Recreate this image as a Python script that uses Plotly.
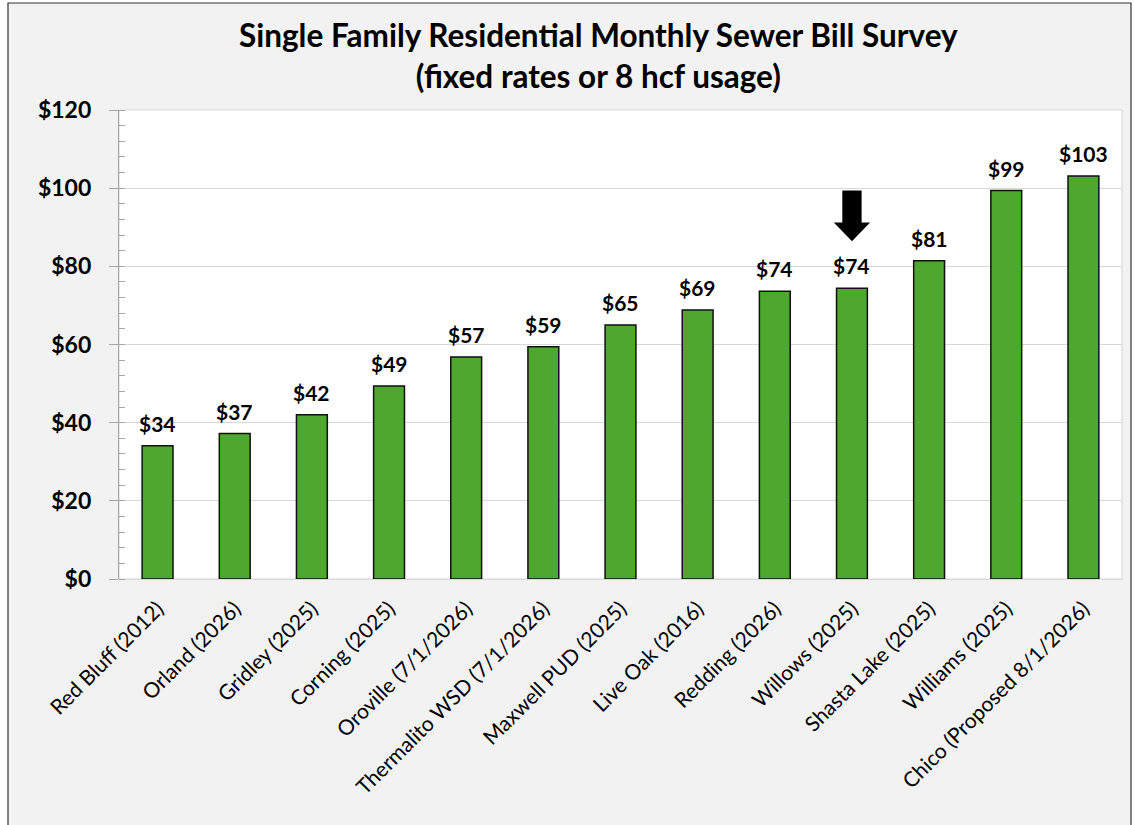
import plotly.graph_objects as go

# survey data
cities = [
    "Red Bluff (2012)", "Orland (2026)", "Gridley (2025)", "Corning (2025)",
    "Oroville (7/1/2026)", "Thermalito WSD (7/1/2026)", "Maxwell PUD (2025)",
    "Live Oak (2016)", "Redding (2026)", "Willows (2025)", "Shasta Lake (2025)",
    "Williams (2025)", "Chico (Proposed 8/1/2026)",
]
monthly_bill = [34.1, 37.2, 42.0, 49.4, 56.8, 59.4, 65.0, 68.8, 73.6, 74.4, 81.4, 99.4, 103.1]
bill_labels = ["$34", "$37", "$42", "$49", "$57", "$59", "$65", "$69", "$74", "$74", "$81", "$99", "$103"]
y_ticks = [0, 20, 40, 60, 80, 100, 120]
y_tick_text = ["$0", "$20", "$40", "$60", "$80", "$100", "$120"]
highlight = "Willows (2025)"

FONT = "Lato"
W, H = 1134, 825
L, R, T, B = 119, 12, 110, 246
pw, ph = W - L - R, H - T - B

fig = go.Figure()
fig.add_trace(go.Bar(
    x=cities, y=monthly_bill, width=0.4,
    marker=dict(color="#4EA72E", line=dict(color="#111111", width=1.5)),
    hoverinfo="x+y",
))

for c, v, t in zip(cities, monthly_bill, bill_labels):
    fig.add_annotation(x=c, y=v, text=f"<b>{t}</b>", showarrow=False,
                       yanchor="bottom", yshift=8,
                       font=dict(family=FONT, size=21, color="black"))

# outer chart frame + plot area (drawn below traces)
def px_x(p):
    return (p - L) / pw

def px_y(p):
    return (H - B - p) / ph

fig.add_shape(type="rect", xref="paper", yref="paper", layer="below",
              x0=px_x(8), x1=px_x(1131), y0=px_y(830), y1=px_y(3),
              fillcolor="#F2F2F2", line=dict(color="#333333", width=1.2))
fig.add_shape(type="rect", xref="paper", yref="paper", layer="below",
              x0=0, x1=1, y0=0, y1=1,
              fillcolor="white", line=dict(color="#D9D9D9", width=1.2))

# title as annotation (multi-line, centred on the chart frame)
fig.add_annotation(
    text="<b>Single Family Residential Monthly Sewer Bill Survey<br>(fixed rates or 8 hcf usage)</b>",
    xref="paper", yref="paper", x=px_x(598), y=px_y(14),
    xanchor="center", yanchor="top", showarrow=False,
    font=dict(family=FONT, size=31.5, color="black"),
)

# black arrow pointing down at the highlighted bar
i = cities.index(highlight)
v = monthly_bill[i]
tip, base, top = v + 12, v + 16.8, v + 25
sw, hw = 0.125, 0.235
path = (f"M {i - sw},{top} L {i + sw},{top} L {i + sw},{base} L {i + hw},{base} "
        f"L {i},{tip} L {i - hw},{base} L {i - sw},{base} Z")
fig.add_shape(type="path", xref="x", yref="y", path=path,
              fillcolor="black", line=dict(color="black", width=0))

fig.update_layout(
    width=W, height=H,
    margin=dict(l=L, r=R, t=T, b=B),
    paper_bgcolor="white",
    plot_bgcolor="rgba(0,0,0,0)",
    showlegend=False,
)

fig.update_xaxes(
    type="category", tickangle=-45,
    tickfont=dict(family=FONT, size=21, color="black"),
    showline=True, linecolor="#D9D9D9", linewidth=1.2,
    showgrid=False, ticks="", ticklabelstandoff=8,
)
fig.update_yaxes(
    range=[0, 120], tickvals=y_ticks, ticktext=y_tick_text,
    tickfont=dict(family=FONT, size=23, color="black", weight="bold"),
    showgrid=True, gridcolor="#D9D9D9", gridwidth=1.2,
    showline=True, linecolor="#A6A6A6", linewidth=1.2,
    ticks="outside", ticklen=9, tickcolor="#A6A6A6", tickwidth=1.2,
    ticklabelstandoff=13,
    minor=dict(dtick=4, ticks="inside", ticklen=6, tickcolor="#A6A6A6", showgrid=False),
    zeroline=False,
)

fig.write_html("out.html", config={"displayModeBar": False},
               post_script="document.body.style.margin='0';")
